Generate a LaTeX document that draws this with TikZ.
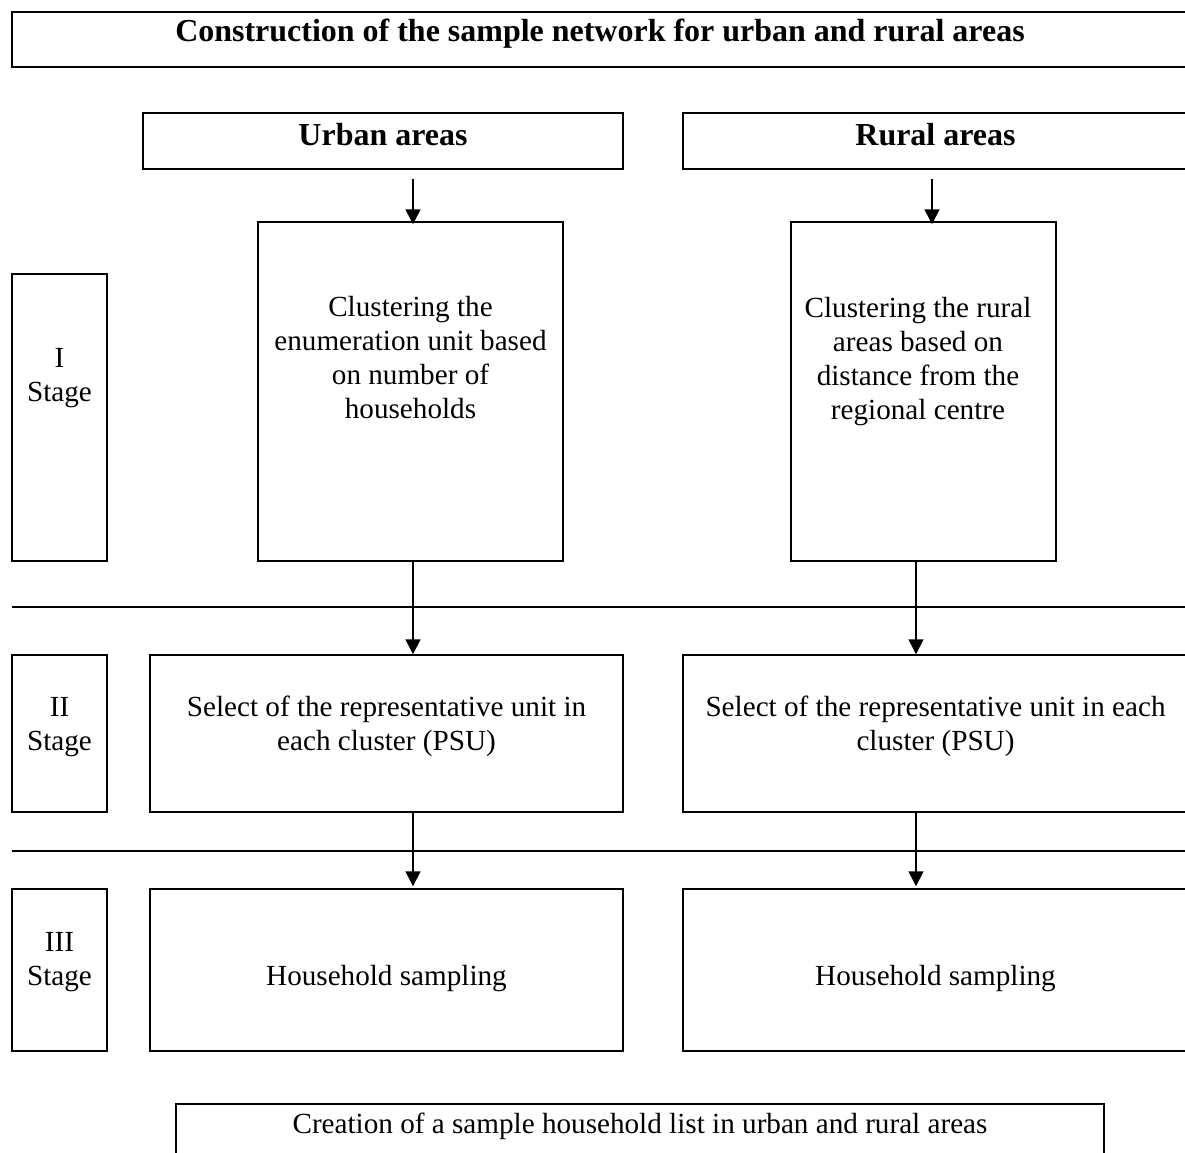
\documentclass[tikz,border=0pt]{standalone}
\usepackage{fontspec}
\setmainfont{Liberation Serif}
\usetikzlibrary{fit,arrows.meta}
\begin{document}
\begin{tikzpicture}[x=0.02cm,y=-0.02cm,
  box/.style={draw,line width=0.85pt,inner sep=0pt},
  txt/.style={inner sep=0pt,align=center,font=\fontsize{16.6}{19.35}\selectfont},
  btxt/.style={inner sep=0pt,align=center,font=\fontsize{18.2}{21}\selectfont\bfseries},
  arr/.style={line width=0.95pt,-{Triangle[width=0.3cm,length=0.3cm]}},
  sep/.style={line width=0.85pt}]
\useasboundingbox (0,0) rectangle (1185,1152);
\clip (0,0) rectangle (1185,1152);
% title
\node[box,fit={(12,12) (1188,67)}] (title) {};
\node[btxt] (titlet) at (600,34) {Construction of the sample network for urban and rural areas};
% area boxes
\node[box,fit={(143,113) (623,169)}] (urban) {};
\node[btxt] (urbant) at (383,135) {Urban areas};
\node[box,fit={(683,113) (1188,169)}] (rural) {};
\node[btxt] (ruralt) at (935.5,135) {Rural areas};
% stage I
\node[box,fit={(12,274) (107,561)}] (s1) {};
\node[txt] (s1t) at (59.5,378) {I\\Stage};
\node[box,fit={(258,222) (563,561)}] (ucl) {};
\node[txt] (uclt) at (410.5,358) {Clustering the\\enumeration unit based\\on number of\\households};
\node[box,fit={(791,222) (1056,561)}] (rcl) {};
\node[txt] (rclt) at (918,362) {Clustering the rural\\areas based on\\distance from the\\regional centre};
% separators
\draw[sep] (12,607) -- (1188,607);
\draw[sep] (12,851) -- (1188,851);
% stage II
\node[box,fit={(12,655) (107,812)}] (s2) {};
\node[txt] (s2t) at (59.5,727) {II\\Stage};
\node[box,fit={(150,655) (623,812)}] (upsu) {};
\node[txt] (upsut) at (386.5,726) {Select of the representative unit in\\each cluster (PSU)};
\node[box,fit={(683,655) (1188,812)}] (rpsu) {};
\node[txt] (rpsut) at (935.5,726) {Select of the representative unit in each\\cluster (PSU)};
% stage III
\node[box,fit={(12,889) (107,1051)}] (s3) {};
\node[txt] (s3t) at (59.5,962) {III\\Stage};
\node[box,fit={(150,889) (623,1051)}] (uhh) {};
\node[txt] (uhht) at (386.5,979) {Household sampling};
\node[box,fit={(683,889) (1188,1051)}] (rhh) {};
\node[txt] (rhht) at (935.5,979) {Household sampling};
% final
\node[box,fit={(176,1104) (1104,1190)}] (final) {};
\node[txt] (finalt) at (640,1126) {Creation of a sample household list in urban and rural areas};
% arrow x positions
\coordinate (ax1) at (413,0);
\coordinate (ax2) at (932,0);
\coordinate (ax3) at (916,0);
\draw[arr,shorten <=0.18cm,shorten >=-0.06cm] (urban.south -| ax1) -- (ucl.north -| ax1);
\draw[arr,shorten <=0.18cm,shorten >=-0.06cm] (rural.south -| ax2) -- (rcl.north -| ax2);
\draw[arr] (ucl.south -| ax1) -- (upsu.north -| ax1);
\draw[arr] (rcl.south -| ax3) -- (rpsu.north -| ax3);
\draw[arr,shorten >=0.04cm] (upsu.south -| ax1) -- (uhh.north -| ax1);
\draw[arr,shorten >=0.04cm] (rpsu.south -| ax3) -- (rhh.north -| ax3);
\end{tikzpicture}
\end{document}
